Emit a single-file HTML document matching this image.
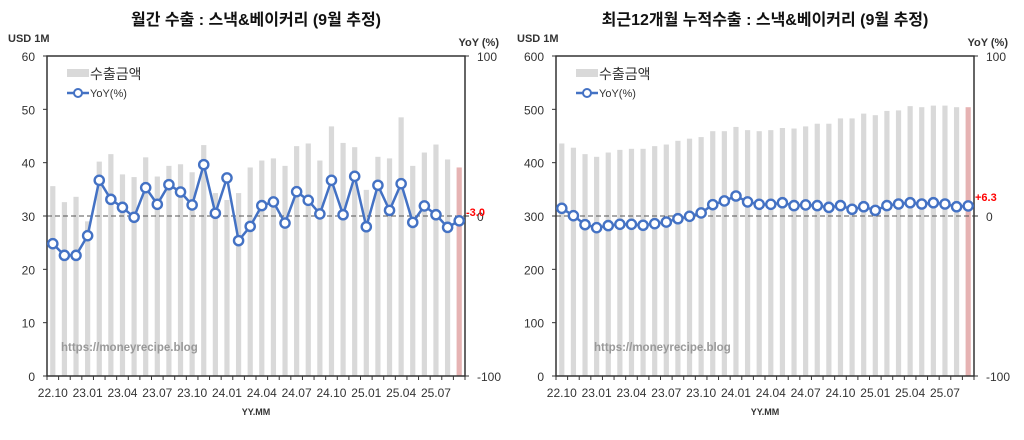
<!DOCTYPE html>
<html><head><meta charset="utf-8">
<style>
body{margin:0;background:#fff;width:1024px;height:435px;overflow:hidden;font-family:"Liberation Sans","Noto Sans CJK KR",sans-serif;}
svg text{font-family:"Liberation Sans","Noto Sans CJK KR",sans-serif;}
</style></head>
<body>
<svg id="chart" width="1024" height="435" xmlns="http://www.w3.org/2000/svg"></svg>
<script>
const months = ["22.10","22.11","22.12","23.01","23.02","23.03","23.04","23.05","23.06","23.07","23.08","23.09","23.10","23.11","23.12","24.01","24.02","24.03","24.04","24.05","24.06","24.07","24.08","24.09","24.10","24.11","24.12","25.01","25.02","25.03","25.04","25.05","25.06","25.07","25.08","25.09"];
const tickLabels = ["22.10","23.01","23.04","23.07","23.10","24.01","24.04","24.07","24.10","25.01","25.04","25.07"];
const monthlyExport = [35.6,32.6,33.6,29,40.2,41.6,37.8,37.3,41,37.4,39.4,39.7,38.2,43.3,34.3,33,34.3,39.1,40.4,40.8,39.4,43.1,43.6,40.4,46.8,43.7,42.9,34.9,41.1,40.8,48.5,39.4,41.9,43.4,40.6,39.1];
const monthlyYoY = [-17.3,-24.6,-24.6,-12.3,22.3,10.4,5.4,-0.8,17.7,7.3,19.6,15,6.9,32.1,1.7,23.8,-15.4,-6.5,6.5,8.8,-4.4,15.2,9.8,1.3,22.3,0.8,24.8,-6.7,19.2,3.5,20.2,-4,6.3,0.8,-7.1,-3.0];
const cumExport = [436,428,416,411,419,424,426,426,431,434,441,445,448,459,459,467,461,459,461,465,464,468,473,473,483,483,492,489,497,498,506,504,507,507,504,504];
const cumYoY = [4.8,0.2,-5.4,-7.3,-6,-5.2,-5.2,-5.8,-4.8,-3.8,-1.7,-0.2,1.9,7.1,9.4,12.5,8.8,7.3,7.3,8.3,6.5,6.9,6.5,5.4,6.5,4.2,5.8,3.5,6.5,7.5,8.3,7.5,8.3,7.5,5.8,6.3];
const leftTicks1 = [0,10,20,30,40,50,60];
const leftTicks2 = [0,100,200,300,400,500,600];
const rightTicks = [-100,0,100];

const svg = document.getElementById('chart');
const NS = 'http://www.w3.org/2000/svg';
function mk(tag, attrs, parent){const e=document.createElementNS(NS,tag);for(const k in attrs)e.setAttribute(k,attrs[k]);(parent||svg).appendChild(e);return e;}
function txt(s, attrs, parent){const e=mk('text',attrs,parent);e.textContent=s;return e;}

function drawChart(cfg){
  const g = mk('g',{});
  
  
  const L=cfg.x0, R=cfg.x1, T=56, B=376;
  const n=cfg.cats.length, bw=(R-L)/n;
  const xc=i=>L+bw*(i+0.5);
  const yL=v=>B-(v-cfg.lmin)/(cfg.lmax-cfg.lmin)*(B-T);
  const yR=v=>B-(v+100)/200*(B-T);
  const t=txt(cfg.title,{x:(L+R)/2,y:25,'text-anchor':'middle','font-size':16,'font-weight':'bold',fill:'#111'},g);
  
  
  const u=txt('USD 1M',{x:L-39,y:42,'font-size':11,'font-weight':'bold',fill:'#333'},g);
  
  
  const u2=txt('YoY (%)',{x:R+34,y:46,'text-anchor':'end','font-size':11,'font-weight':'bold',fill:'#333'},g);
  
  
  cfg.bars.forEach((v,i)=>{
    const r=mk('rect',{x:xc(i)-2.6,y:yL(v),width:5.2,height:B-yL(v),fill:i===n-1?'#e6b3b3':'#d9d9d9'},g);
    
    
  });
  const z=mk('line',{x1:L,x2:R,y1:yR(0),y2:yR(0),stroke:'#555','stroke-width':1,'stroke-dasharray':'5,3'},g);
  
  
  const f=mk('rect',{x:L,y:T,width:R-L,height:B-T,fill:'none',stroke:'#333','stroke-width':1.5},g);
  
  
  cfg.lticks.forEach(v=>{
    mk('line',{x1:L-4,x2:L,y1:yL(v),y2:yL(v),stroke:'#333'},g);
    const e=txt(v,{x:L-12,y:yL(v)+5,'text-anchor':'end','font-size':12,fill:'#333'},g);
    
    
  });
  rightTicks.forEach(v=>{
    mk('line',{x1:R,x2:R+4,y1:yR(v),y2:yR(v),stroke:'#333'},g);
    const e=txt(v,{x:R+12,y:yR(v)+5,'font-size':12,fill:'#333'},g);
    
    
  });
  for(let i=0;i<=n;i++) mk('line',{x1:L+bw*i,x2:L+bw*i,y1:B,y2:B+4,stroke:'#333'},g);
  cfg.cats.forEach((c,i)=>{
    if(tickLabels.indexOf(c)>=0){
      const e=txt(c,{x:xc(i),y:397,'text-anchor':'middle','font-size':12,fill:'#333'},g);
      
      
    }
  });
  const xt=txt('YY.MM',{x:(L+R)/2,y:415,'text-anchor':'middle','font-size':9,'font-weight':'bold',fill:'#333'},g);
  
  
  const pts=cfg.yoy.map((v,i)=>xc(i)+','+yR(v)).join(' ');
  const pl=mk('polyline',{points:pts,fill:'none',stroke:'#4472c4','stroke-width':2.5},g);
  
  
  cfg.yoy.forEach((v,i)=>{
    const c=mk('circle',{cx:xc(i),cy:yR(v),r:4.6,fill:'#fff',stroke:'#4472c4','stroke-width':2.4},g);
    
    
  });
  const lv=cfg.yoy[n-1];
  const lab=txt((lv>0?'+':'')+lv.toFixed(1),{x:R+1,y:yR(lv)-5,'font-size':11,'font-weight':'bold',fill:'#ff0000'},g);
  
  
  const lg=mk('g',{},g);
  
  
  mk('rect',{x:L+20,y:69,width:22,height:8,fill:'#d9d9d9'},lg);
  txt('수출금액',{x:L+43,y:79,'font-size':14,fill:'#333'},lg);
  mk('line',{x1:L+20,x2:L+42,y1:93,y2:93,stroke:'#4472c4','stroke-width':2.5},lg);
  mk('circle',{cx:L+31,cy:93,r:4,fill:'#fff',stroke:'#4472c4','stroke-width':2},lg);
  txt('YoY(%)',{x:L+43,y:97,'font-size':11,fill:'#333'},lg);
  const wm=txt('https://moneyrecipe.blog',{x:cfg.wmx,y:351,'font-size':11.5,'font-weight':'bold',fill:'#999','font-family':'Liberation Mono, monospace'},g);
  
  
}
drawChart({name:'monthly-export-chart',title:'월간 수출 : 스낵&베이커리 (9월 추정)',x0:47,x1:465,lmin:0,lmax:60,lticks:leftTicks1,cats:months,bars:monthlyExport,yoy:monthlyYoY,wmx:61});
drawChart({name:'cumulative-export-chart',title:'최근12개월 누적수출 : 스낵&베이커리 (9월 추정)',x0:556,x1:974,lmin:0,lmax:600,lticks:leftTicks2,cats:months,bars:cumExport,yoy:cumYoY,wmx:594});
</script>
</body></html>
